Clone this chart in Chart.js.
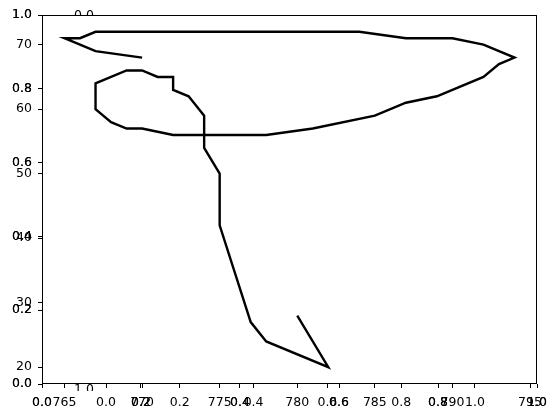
<!DOCTYPE html>
<html><head><meta charset="utf-8">
<script src="https://cdn.jsdelivr.net/npm/chart.js@4"></script>
<style>html,body{margin:0;padding:0;background:#fff}canvas{display:block}</style>
</head><body>
<canvas id="c" width="558" height="418"></canvas>
<script>
// ---- data (track positions) ----
const trackX = [780,782,778,777,775,775,774,774,773,772,772,771,770,769,767,767,768,769,770,772,778,781,785,787,789,792,793,794,792,790,787,784,767,766,765,767,770];
const trackY = [28,20,24,27,42,50,54,59,62,63,65,65,66,66,64,60,58,57,57,56,56,57,59,61,62,65,67,68,70,71,71,72,72,71,71,69,68];

// ---- tick labels ----
const xTickLabels = [765,770,775,780,785,790,795];
const yTickLabels = [20,30,40,50,60,70];
const overlayTickLabels = [0.0,0.2,0.4,0.6,0.8,1.0];
const strayLabels = ['0.0','1.0'];

const X_MIN = 763.55, X_MAX = 795.45, Y_MIN = 17.4, Y_MAX = 74.6;
// second overlay x-axis spans a sub-range of the frame
const SUB_X0 = 0.1293, SUB_X1 = 0.8747;

function fmt(v){ return v.toFixed(1); }

const xTicks = [];
xTickLabels.forEach(v => xTicks.push({value:v, lbl:String(v)}));
overlayTickLabels.forEach(t => {
  const v = X_MIN + t*(X_MAX-X_MIN);
  xTicks.push({value:v, lbl:fmt(t)});
  xTicks.push({value:v, lbl:fmt(t)});
  const v2 = X_MIN + (SUB_X0 + t*(SUB_X1-SUB_X0))*(X_MAX-X_MIN);
  xTicks.push({value:v2, lbl:fmt(t)});
});
const yTicks = [];
yTickLabels.forEach(v => yTicks.push({value:v, lbl:String(v)}));
overlayTickLabels.forEach(t => {
  const v = Y_MIN + t*(Y_MAX-Y_MIN);
  yTicks.push({value:v, lbl:fmt(t)});
  yTicks.push({value:v, lbl:fmt(t)});
});

const points = trackX.map((x,i)=>({x:x, y:trackY[i]}));

const framePlugin = {
  id:'frame',
  afterDraw(chart){
    const {ctx, chartArea:a} = chart;
    ctx.save();
    ctx.strokeStyle = '#000';
    ctx.lineWidth = 1;
    ctx.strokeRect(Math.round(a.left)+0.5, Math.round(a.top)+0.5, Math.round(a.right-a.left)-1, Math.round(a.bottom-a.top)-1);
    // partially hidden stray labels
    ctx.font = '12.5px "DejaVu Sans"';
    ctx.fillStyle = '#000';
    ctx.textAlign = 'center';
    ctx.textBaseline = 'top';
    ctx.save();
    ctx.beginPath(); ctx.rect(60, 0, 60, a.top); ctx.clip();
    ctx.fillText(strayLabels[0], 84, 9);
    ctx.restore();
    ctx.save();
    ctx.beginPath(); ctx.rect(60, a.bottom, 60, 7); ctx.clip();
    ctx.fillText(strayLabels[1], 84, a.bottom - 1);
    ctx.restore();
    ctx.restore();
  }
};

Chart.defaults.font.family = '"DejaVu Sans", sans-serif';
Chart.defaults.font.size = 12.5;
Chart.defaults.color = '#000';

new Chart(document.getElementById('c'), {
  type: 'scatter',
  data: { datasets: [{
    data: points,
    showLine: true,
    borderColor: '#000',
    borderWidth: 2.4,
    pointRadius: 0,
    fill: false,
    tension: 0,
    borderJoinStyle: 'miter'
  }]},
  options: {
    responsive: false,
    devicePixelRatio: 1,
    animation: false,
    layout: { padding: { top: 15, right: 21, left: 0, bottom: 0 } },
    plugins: { legend: {display:false}, tooltip: {enabled:false} },
    scales: {
      x: {
        type: 'linear', position: 'bottom', min: X_MIN, max: X_MAX,
        afterBuildTicks(s){ s.ticks = xTicks.map(t=>({value:t.value, lbl:t.lbl})); },
        afterFit(s){ s.height = 34; },
        ticks: { autoSkip:false, maxRotation:0, minRotation:0, padding:7, color:'#000',
          callback(v,i,ticks){ return ticks[i].lbl; } },
        grid: { display:true, drawOnChartArea:false, drawTicks:true, tickLength:4, color:'#000', lineWidth:1 },
        border: { display:false }
      },
      y: {
        type: 'linear', position: 'left', min: Y_MIN, max: Y_MAX,
        afterBuildTicks(s){ s.ticks = yTicks.map(t=>({value:t.value, lbl:t.lbl})); },
        afterFit(s){ s.width = 42; },
        ticks: { autoSkip:false, padding:6, color:'#000',
          callback(v,i,ticks){ return ticks[i].lbl; } },
        grid: { display:true, drawOnChartArea:false, drawTicks:true, tickLength:4, color:'#000', lineWidth:1 },
        border: { display:false }
      }
    }
  },
  plugins: [framePlugin]
});
</script>
</body></html>
